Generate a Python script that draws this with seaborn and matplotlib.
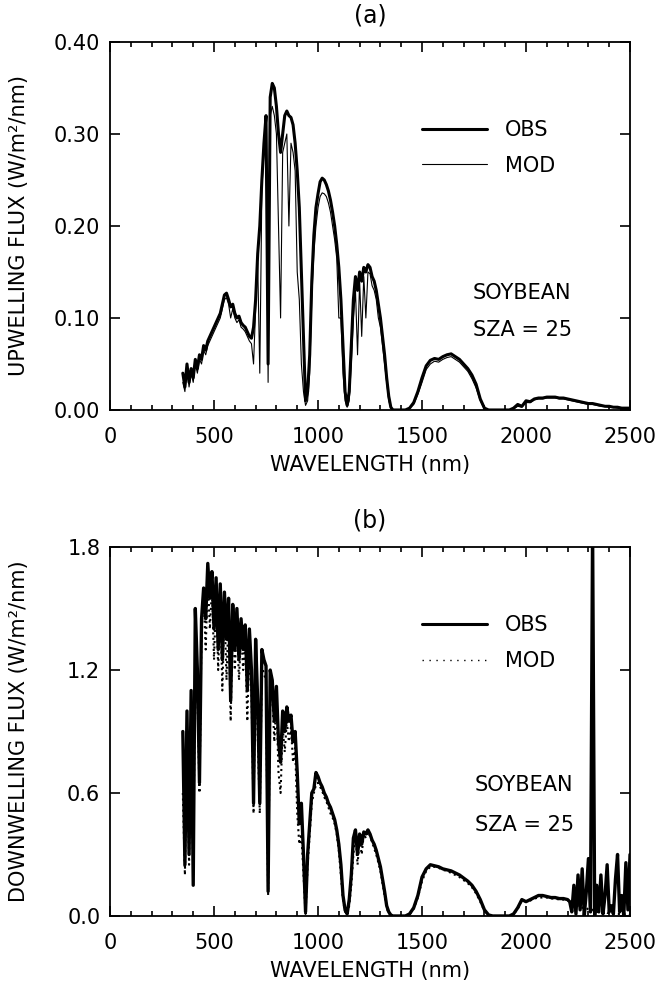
import matplotlib
matplotlib.use("Agg")
import matplotlib.pyplot as plt
import pandas as pd
import seaborn as sns
from matplotlib.lines import Line2D
from matplotlib.ticker import MultipleLocator, FormatStrFormatter

# ---------------- data ----------------
# Panel (a): upwelling flux over soybean
WL_A = [350, 360, 370, 380, 390, 400, 410, 420, 430, 440,
        450, 460, 470, 480, 490, 500, 510, 520, 530, 540,
        550, 560, 570, 580, 590, 600, 610, 620, 630, 640,
        650, 660, 670, 680, 690, 700, 710, 720, 730, 740,
        750, 760, 770, 780, 790, 800, 810, 820, 830, 840,
        850, 860, 870, 880, 890, 900, 910, 920, 930, 940,
        950, 960, 970, 980, 990, 1000, 1010, 1020, 1030, 1040,
        1050, 1060, 1070, 1080, 1090, 1100, 1110, 1120, 1130, 1140,
        1150, 1160, 1170, 1180, 1190, 1200, 1210, 1220, 1230, 1240,
        1250, 1260, 1270, 1280, 1290, 1300, 1310, 1320, 1330, 1340,
        1350, 1360, 1370, 1380, 1390, 1400,
        1420, 1440, 1460, 1480, 1500, 1520, 1540, 1560, 1580, 1600,
        1620, 1640, 1660, 1680, 1700, 1720, 1740, 1760, 1780, 1800,
        1820, 1840, 1860, 1880, 1900, 1920, 1940, 1960, 1980, 2000,
        2020, 2040, 2060, 2080, 2100, 2120, 2140, 2160, 2180, 2200,
        2220, 2240, 2260, 2280, 2300, 2320, 2340, 2360, 2380, 2400,
        2420, 2440, 2460, 2480, 2500]

OBS_A = [0.040, 0.025, 0.050, 0.030, 0.045, 0.035, 0.055, 0.045, 0.060, 0.055,
         0.070, 0.065, 0.075, 0.080, 0.085, 0.090, 0.095, 0.100, 0.105, 0.115,
         0.125, 0.127, 0.120, 0.112, 0.115, 0.105, 0.100, 0.102, 0.095, 0.092,
         0.090, 0.085, 0.080, 0.078, 0.090, 0.120, 0.170, 0.200, 0.250, 0.290,
         0.320, 0.050, 0.340, 0.355, 0.350, 0.330, 0.300, 0.280, 0.300, 0.320,
         0.325, 0.320, 0.318, 0.310, 0.290, 0.260, 0.220, 0.150, 0.080, 0.010,
         0.020, 0.060, 0.140, 0.190, 0.220, 0.235, 0.248, 0.252, 0.250, 0.245,
         0.238, 0.228, 0.215, 0.200, 0.180, 0.155, 0.120, 0.070, 0.020, 0.005,
         0.020, 0.070, 0.120, 0.145, 0.130, 0.150, 0.140, 0.155, 0.150, 0.158,
         0.155, 0.145, 0.140, 0.130, 0.115, 0.100, 0.080, 0.060, 0.035, 0.015,
         0.003, 0.000, 0.000, 0.000, 0.000, 0.000,
         0.000, 0.002, 0.008, 0.020, 0.035, 0.048, 0.054, 0.056, 0.055, 0.058,
         0.060, 0.061, 0.058, 0.055, 0.050, 0.045, 0.038, 0.028, 0.012, 0.002,
         0.000, 0.000, 0.000, 0.000, 0.000, 0.000, 0.002, 0.006, 0.004, 0.010,
         0.009, 0.012, 0.013, 0.013, 0.014, 0.014, 0.014, 0.013, 0.013, 0.012,
         0.011, 0.010, 0.009, 0.008, 0.007, 0.007, 0.006, 0.005, 0.004, 0.004,
         0.003, 0.003, 0.002, 0.002, 0.002]

MOD_A = [0.030, 0.020, 0.045, 0.025, 0.040, 0.030, 0.050, 0.040, 0.055, 0.050,
         0.065, 0.060, 0.070, 0.075, 0.080, 0.085, 0.090, 0.095, 0.100, 0.110,
         0.120, 0.122, 0.115, 0.100, 0.110, 0.100, 0.095, 0.098, 0.090, 0.088,
         0.085, 0.080, 0.075, 0.072, 0.050, 0.110, 0.160, 0.040, 0.240, 0.280,
         0.300, 0.030, 0.320, 0.330, 0.320, 0.300, 0.200, 0.100, 0.280, 0.290,
         0.300, 0.200, 0.290, 0.280, 0.260, 0.150, 0.120, 0.050, 0.020, 0.005,
         0.010, 0.040, 0.120, 0.170, 0.200, 0.220, 0.232, 0.236, 0.235, 0.232,
         0.225, 0.215, 0.200, 0.185, 0.165, 0.100, 0.100, 0.040, 0.010, 0.003,
         0.010, 0.050, 0.100, 0.130, 0.060, 0.140, 0.080, 0.145, 0.100, 0.150,
         0.148, 0.135, 0.130, 0.120, 0.100, 0.090, 0.070, 0.050, 0.030, 0.010,
         0.002, 0.000, 0.000, 0.000, 0.000, 0.000,
         0.000, 0.002, 0.006, 0.017, 0.030, 0.044, 0.050, 0.053, 0.052, 0.055,
         0.057, 0.058, 0.055, 0.052, 0.047, 0.042, 0.034, 0.024, 0.010, 0.001,
         0.000, 0.000, 0.000, 0.000, 0.000, 0.000, 0.001, 0.004, 0.003, 0.008,
         0.008, 0.011, 0.012, 0.012, 0.013, 0.013, 0.013, 0.012, 0.012, 0.011,
         0.010, 0.009, 0.008, 0.007, 0.006, 0.006, 0.005, 0.004, 0.004, 0.003,
         0.003, 0.002, 0.002, 0.001, 0.001]

# Panel (b): downwelling flux
WL_B = [350, 360, 370, 380, 390, 400, 410, 420, 430, 440,
        450, 460, 470, 480, 490, 500, 510, 520, 530, 540,
        550, 560, 570, 580, 590, 600, 610, 620, 630, 640,
        650, 660, 670, 680, 690, 700, 710, 720, 730, 740,
        750, 760, 770, 780, 790, 800, 810, 820, 830, 840,
        850, 860, 870, 880, 890, 900, 910, 920, 930, 940,
        950, 960, 970, 980, 990, 1000, 1010, 1020, 1030, 1040,
        1050, 1060, 1070, 1080, 1090, 1100, 1110, 1120, 1130, 1140,
        1150, 1160, 1170, 1180, 1190, 1200, 1210, 1220, 1230, 1240,
        1250, 1260, 1270, 1280, 1290, 1300, 1310, 1320, 1330, 1340,
        1350, 1360, 1370, 1380, 1390, 1400,
        1420, 1440, 1460, 1480, 1500, 1520, 1540, 1560, 1580, 1600,
        1620, 1640, 1660, 1680, 1700, 1720, 1740, 1760, 1780, 1800,
        1820, 1840, 1860, 1880, 1900, 1920, 1940, 1960, 1980, 2000,
        2020, 2040, 2060, 2080, 2100, 2120, 2140, 2160, 2180, 2200,
        2210, 2220, 2230, 2240, 2250, 2260, 2270, 2280, 2290, 2300,
        2310, 2320, 2330, 2340, 2350, 2360, 2370, 2380, 2390, 2400,
        2410, 2420, 2430, 2440, 2450, 2460, 2470, 2480, 2490, 2500]

OBS_B = [0.90, 0.25, 1.00, 0.30, 1.10, 0.15, 1.50, 1.20, 0.65, 1.45,
         1.60, 1.45, 1.72, 1.55, 1.68, 1.40, 1.65, 1.30, 1.62, 1.25,
         1.58, 1.35, 1.55, 1.05, 1.52, 1.30, 1.50, 1.25, 1.45, 1.30,
         1.42, 1.10, 1.40, 1.20, 0.55, 1.35, 1.05, 0.55, 1.30, 1.25,
         1.22, 0.12, 1.20, 1.15, 0.95, 1.12, 0.85, 0.75, 1.00, 0.90,
         1.02, 0.95, 0.98, 0.85, 0.90, 0.70, 0.45, 0.55, 0.30, 0.02,
         0.30, 0.45, 0.60, 0.62, 0.70, 0.68, 0.65, 0.63, 0.60, 0.58,
         0.55, 0.53, 0.50, 0.47, 0.42, 0.35, 0.25, 0.10, 0.03, 0.01,
         0.08, 0.20, 0.38, 0.42, 0.30, 0.40, 0.35, 0.41, 0.40, 0.42,
         0.40, 0.37, 0.35, 0.32, 0.28, 0.24, 0.18, 0.12, 0.05, 0.02,
         0.005, 0.0, 0.0, 0.0, 0.0, 0.0,
         0.000, 0.010, 0.040, 0.100, 0.190, 0.230, 0.250, 0.245, 0.240, 0.230,
         0.225, 0.220, 0.210, 0.200, 0.185, 0.170, 0.150, 0.120, 0.080, 0.030,
         0.005, 0.000, 0.000, 0.000, 0.000, 0.000, 0.010, 0.040, 0.080, 0.070,
         0.080, 0.090, 0.100, 0.100, 0.095, 0.090, 0.090, 0.085, 0.085, 0.080,
         0.07, 0.02, 0.15, 0.01, 0.20, 0.03, 0.23, 0.00, 0.12, 0.28,
         0.02, 1.90, 0.00, 0.15, 0.02, 0.20, 0.01, 0.10, 0.25, 0.02,
         0.05, 0.01, 0.18, 0.30, 0.02, 0.10, 0.00, 0.26, 0.03, 0.30]

MOD_B = [0.60, 0.20, 0.85, 0.25, 0.95, 0.20, 1.35, 1.10, 0.60, 1.40,
         1.55, 1.30, 1.65, 1.40, 1.60, 1.25, 1.58, 1.20, 1.55, 1.10,
         1.50, 1.15, 1.48, 0.95, 1.45, 1.20, 1.42, 1.15, 1.38, 1.20,
         1.35, 0.95, 1.33, 1.10, 0.50, 1.28, 0.90, 0.50, 1.22, 1.18,
         1.15, 0.10, 1.12, 1.08, 0.85, 1.05, 0.70, 0.60, 0.92, 0.80,
         0.95, 0.85, 0.92, 0.75, 0.82, 0.50, 0.35, 0.40, 0.20, 0.01,
         0.25, 0.40, 0.55, 0.60, 0.64, 0.65, 0.63, 0.61, 0.58, 0.56,
         0.53, 0.50, 0.48, 0.45, 0.40, 0.32, 0.20, 0.08, 0.02, 0.01,
         0.05, 0.15, 0.30, 0.40, 0.25, 0.38, 0.30, 0.40, 0.38, 0.41,
         0.39, 0.36, 0.33, 0.30, 0.26, 0.22, 0.16, 0.10, 0.04, 0.01,
         0.0, 0.0, 0.0, 0.0, 0.0, 0.0,
         0.000, 0.008, 0.035, 0.090, 0.170, 0.220, 0.240, 0.240, 0.235, 0.225,
         0.220, 0.210, 0.200, 0.190, 0.175, 0.160, 0.140, 0.110, 0.070, 0.025,
         0.004, 0.000, 0.000, 0.000, 0.000, 0.000, 0.008, 0.035, 0.075, 0.070,
         0.075, 0.085, 0.090, 0.090, 0.090, 0.085, 0.085, 0.080, 0.080, 0.075,
         0.070, 0.060, 0.060, 0.050, 0.050, 0.050, 0.040, 0.040, 0.040, 0.030,
         0.030, 0.030, 0.030, 0.020, 0.020, 0.020, 0.020, 0.020, 0.015, 0.015,
         0.015, 0.010, 0.010, 0.010, 0.010, 0.010, 0.008, 0.008, 0.006, 0.005]

X_TICKS = [0, 500, 1000, 1500, 2000, 2500]
Y_TICKS_A = [0.00, 0.10, 0.20, 0.30, 0.40]
Y_TICKS_B = [0.0, 0.6, 1.2, 1.8]
SERIES = ["OBS", "MOD"]

# ---------------- styling ----------------
sns.set_theme(style="ticks")
plt.rcParams["font.family"] = ["DejaVu Sans"]
plt.rcParams["axes.linewidth"] = 1.3
for key in ("text.color", "axes.labelcolor", "xtick.color", "ytick.color",
            "axes.edgecolor"):
    plt.rcParams[key] = "black"

fig = plt.figure(figsize=(6.62, 9.86), dpi=100)
ax_a = fig.add_axes([0.1662, 0.5842, 0.7855, 0.3732])
ax_b = fig.add_axes([0.1662, 0.0710, 0.7855, 0.3742])

df_a = pd.DataFrame({"wl": WL_A, "obs": OBS_A, "mod": MOD_A})
df_b = pd.DataFrame({"wl": WL_B, "obs": OBS_B, "mod": MOD_B})

sns.lineplot(data=df_a, x="wl", y="mod", ax=ax_a, color="black", lw=0.8,
             estimator=None, sort=False)
sns.lineplot(data=df_a, x="wl", y="obs", ax=ax_a, color="black", lw=2.2,
             estimator=None, sort=False)
sns.lineplot(data=df_b, x="wl", y="mod", ax=ax_b, color="black", lw=1.5,
             linestyle=":", estimator=None, sort=False)
sns.lineplot(data=df_b, x="wl", y="obs", ax=ax_b, color="black", lw=2.4,
             estimator=None, sort=False)


def style(ax, yticks, fmt, ylab, title):
    ax.set_xlim(0, 2500)
    ax.set_ylim(yticks[0], yticks[-1])
    ax.set_xticks(X_TICKS)
    ax.xaxis.set_minor_locator(MultipleLocator(100))
    ax.set_yticks(yticks)
    ax.yaxis.set_major_formatter(FormatStrFormatter(fmt))
    ax.tick_params(which="both", direction="in", top=True, right=True,
                   colors="black", labelcolor="black", width=1.2)
    ax.tick_params(which="major", length=7, labelsize=15)
    ax.tick_params(which="minor", length=3.5)
    ax.tick_params(axis="x", which="major", pad=12)
    ax.tick_params(axis="y", which="major", pad=7)
    for s in ax.spines.values():
        s.set_color("black")
    ax.set_xlabel("WAVELENGTH (nm)", fontsize=15, color="black")
    ax.set_ylabel(ylab, fontsize=15, color="black")
    ax.xaxis.set_label_coords(0.5, -0.122)
    ax.yaxis.set_label_coords(-0.155, 0.5)
    ax.set_title(title, fontsize=17, pad=14, color="black")


style(ax_a, Y_TICKS_A, "%.2f", "UPWELLING FLUX (W/m²/nm)", "(a)")
style(ax_b, Y_TICKS_B, "%.1f", "DOWNWELLING FLUX (W/m²/nm)", "(b)")

h_a = [Line2D([], [], color="black", lw=2.2), Line2D([], [], color="black", lw=0.8)]
h_b = [Line2D([], [], color="black", lw=2.2),
       Line2D([], [], color="black", lw=1.0, linestyle=(0, (1, 4)))]
for ax, h, top in ((ax_a, h_a, 0.788), (ax_b, h_b, 0.815)):
    ax.legend(h, SERIES, loc="upper left", bbox_to_anchor=(0.60, top),
              frameon=False, fontsize=15, handlelength=3.1, handletextpad=0.9,
              labelspacing=0.75, borderpad=0, borderaxespad=0,
              labelcolor="black")

ax_a.text(0.698, 0.318, "SOYBEAN", transform=ax_a.transAxes, fontsize=15,
          ha="left", va="center", color="black")
ax_a.text(0.698, 0.217, "SZA = 25", transform=ax_a.transAxes, fontsize=15,
          ha="left", va="center", color="black")
ax_b.text(0.702, 0.355, "SOYBEAN", transform=ax_b.transAxes, fontsize=15,
          ha="left", va="center", color="black")
ax_b.text(0.702, 0.247, "SZA = 25", transform=ax_b.transAxes, fontsize=15,
          ha="left", va="center", color="black")

fig.savefig("out.png", dpi=100, facecolor="white")
